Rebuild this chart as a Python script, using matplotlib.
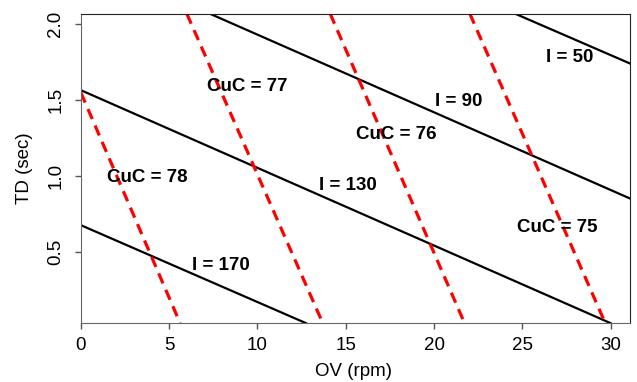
import matplotlib.pyplot as plt
import numpy as np

plt.rcParams['font.family'] = ['Liberation Sans', 'DejaVu Sans']

# 等值线 I (黑色实线)：每条线的端点 (OV, TD)
i_levels = ['I = 170', 'I = 130', 'I = 90', 'I = 50']
i_x = [[0, 12.75], [0, 30.0], [7.31, 31.1], [24.6, 31.1]]
i_y = [[0.676, 0.03], [1.566, 0.03], [2.07, 0.852], [2.07, 1.742]]

# 等值线 CuC (红色虚线)
cuc_levels = ['CuC = 78', 'CuC = 77', 'CuC = 76', 'CuC = 75']
cuc_x = [[0, 5.62], [6.0, 13.7], [14.12, 21.73], [22.03, 29.7]]
cuc_y = [[1.55, 0.03], [2.07, 0.03], [2.07, 0.03], [2.07, 0.03]]

# 标注位置
i_lab_x = [7.94, 15.1, 21.4, 27.7]
i_lab_y = [0.41, 0.94, 1.49, 1.78]
cuc_lab_x = [3.74, 9.4, 17.86, 27.0]
cuc_lab_y = [0.99, 1.59, 1.276, 0.663]

fig = plt.figure(figsize=(6.37, 3.82), dpi=100)
ax = fig.add_axes([0.127, 0.154, 0.862, 0.810])

for xs, ys in zip(i_x, i_y):
    ax.plot(xs, ys, color='black', linewidth=1.6)
for xs, ys in zip(cuc_x, cuc_y):
    ax.plot(xs, ys, color='red', linewidth=2.3, linestyle=(0, (3.4, 2.2)))

for t, x, y in zip(i_levels, i_lab_x, i_lab_y):
    ax.text(x, y, t, ha='center', va='center', fontsize=13.5, fontweight='bold')
for t, x, y in zip(cuc_levels, cuc_lab_x, cuc_lab_y):
    ax.text(x, y, t, ha='center', va='center', fontsize=13.5, fontweight='bold')

ax.set_xlim(0, 31.1)
ax.set_ylim(0.03, 2.07)
ax.set_xticks([0, 5, 10, 15, 20, 25, 30])
ax.set_yticks([0.5, 1.0, 1.5, 2.0])
ax.set_yticklabels(['0.5', '1.0', '1.5', '2.0'], rotation=90, va='center')
ax.tick_params(direction='out', length=4, width=1, colors='#555555', labelcolor='black', labelsize=13.5)
ax.tick_params(axis='x', pad=6)
ax.tick_params(axis='y', pad=8)
ax.set_xlabel('OV (rpm)', fontsize=13.5, va='center')
ax.set_ylabel('TD (sec)', fontsize=13.5, va='center')
ax.xaxis.set_label_coords(0.497, -0.155)
ax.yaxis.set_label_coords(-0.102, 0.5)
for s in ['left', 'bottom']:
    ax.spines[s].set_color('#666666')
for s in ['top', 'right']:
    ax.spines[s].set_color('#222222')

plt.savefig('out.png', dpi=100)
